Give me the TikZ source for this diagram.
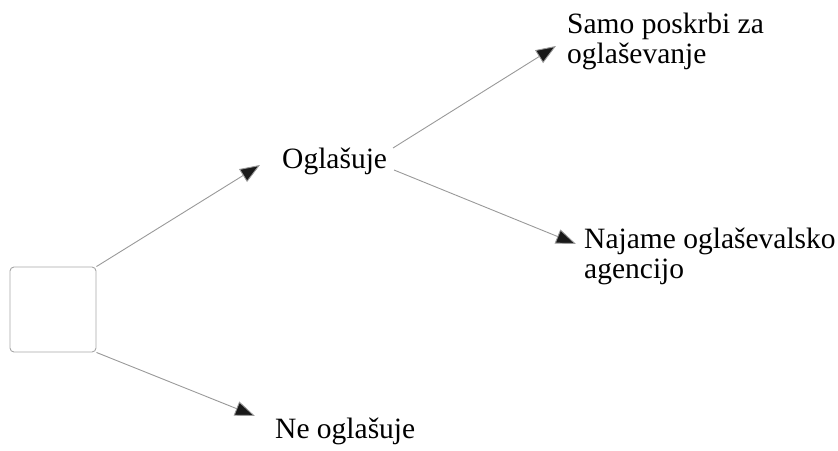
\documentclass[tikz,border=0pt]{standalone}
\usepackage{fontspec}
\setmainfont{Liberation Serif}
\usetikzlibrary{arrows.meta}
\begin{document}
\begin{tikzpicture}[x=1pt,y=-1pt,
  branch/.style={draw=black!40, line width=0.9pt, -{Triangle[length=20pt,width=15pt,fill=black!90]}},
  label/.style={anchor=base west, inner sep=0pt, font=\fontsize{29.5}{30}\selectfont, align=left},
  decision/.style={draw=black!35, line width=0.9pt, rounded corners=4pt, minimum width=86pt, minimum height=85pt, inner sep=0pt}]
  \useasboundingbox (0,0) rectangle (838,450);
  % decision box
  \node[decision] (box) at (53,309.5) {};
  % option labels (base anchor sits on the last line)
  \node[label] (ogl) at (282,168) {Oglašuje};
  \node[label] (ne) at (275,438) {Ne oglašuje};
  \node[label] (samo) at (567,63) {Samo poskrbi za\\oglaševanje};
  \node[label] (naj) at (584,278) {Najame oglaševalsko\\agencijo};
  % arrow ends
  \coordinate (oglIn) at (260,165);
  \coordinate (neIn) at (255,416);
  \coordinate (oglUp) at (393,148);
  \coordinate (oglDown) at (394,170);
  \coordinate (samoIn) at (556,46);
  \coordinate (najIn) at (576,244);
  % branches
  \draw[branch] (box.north east) -- (oglIn);
  \draw[branch] (box.south east) -- (neIn);
  \draw[branch] (oglUp) -- (samoIn);
  \draw[branch] (oglDown) -- (najIn);
\end{tikzpicture}
\end{document}
